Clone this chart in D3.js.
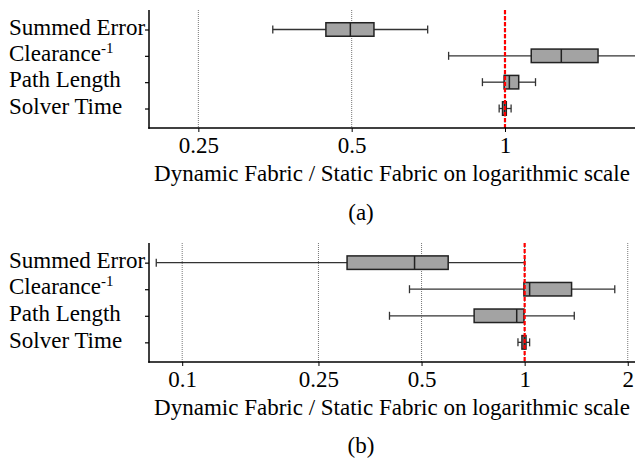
<!DOCTYPE html>
<html><head><meta charset="utf-8">
<script src="https://cdn.jsdelivr.net/npm/d3@7"></script>
<style>
html,body{margin:0;padding:0;background:#fff;}
svg{display:block;font-family:"Liberation Serif","Times New Roman",serif;}
</style></head>
<body>
<svg id="c" width="635" height="460"></svg>
<script>
const categories = ["Summed Error", "Clearance", "Path Length", "Solver Time"];

// Panel (a)
const aTicks = [0.25, 0.5, 1];
const aTickLabels = ["0.25", "0.5", "1"];
const aWhiskerLow  = [0.350, 0.775, 0.903, 0.974];
const aQ1          = [0.445, 1.126, 0.996, 0.989];
const aMedian      = [0.497, 1.290, 1.020, 0.998];
const aQ3          = [0.553, 1.523, 1.064, 1.006];
const aWhiskerHigh = [0.705, 1.950, 1.148, 1.028];

// Panel (b)
const bTicks = [0.1, 0.25, 0.5, 1, 2];
const bTickLabels = ["0.1", "0.25", "0.5", "1", "2"];
const bWhiskerLow  = [0.084, 0.461, 0.403, 0.956];
const bQ1          = [0.303, 0.995, 0.712, 0.982];
const bMedian      = [0.477, 1.034, 0.948, 0.997];
const bQ3          = [0.598, 1.371, 0.995, 1.009];
const bWhiskerHigh = [1.000, 1.833, 1.396, 1.034];

const axisTitle = "Dynamic Fabric / Static Fabric on logarithmic scale";

const svg = d3.select("#c");

function panel(cfg) {
  const {id, top, bottom, domain, ticks, tickLabels, lo, q1, med, q3, hi, caption, captionY} = cfg;
  const left = 149, right = 635;
  const g = svg.append("g");
  const x = d3.scaleLog().domain(domain).range([left, right]);
  const y = d3.scalePoint().domain(categories).range([top, bottom]).padding(0.74);

  g.append("clipPath").attr("id", "clip" + id)
    .append("rect").attr("x", left).attr("y", top).attr("width", right - left).attr("height", bottom - top);

  // gridlines
  g.selectAll(".grid").data(ticks).join("line")
    .attr("x1", d => x(d)).attr("x2", d => x(d))
    .attr("y1", top).attr("y2", bottom)
    .attr("stroke", "#777").attr("stroke-width", 1).attr("stroke-dasharray", "1,1");

  const data = categories.map((c, i) => ({c, lo: lo[i], q1: q1[i], med: med[i], q3: q3[i], hi: hi[i]}));
  const bh = 13.5, ch = 8;
  const boxes = g.append("g").attr("clip-path", `url(#clip${id})`);
  const bg = boxes.selectAll("g.box").data(data).join("g");
  bg.append("line")
    .attr("x1", d => x(d.lo)).attr("x2", d => x(d.q1))
    .attr("y1", d => y(d.c)).attr("y2", d => y(d.c))
    .attr("stroke", "#333").attr("stroke-width", 1.3);
  bg.append("line")
    .attr("x1", d => x(d.q3)).attr("x2", d => x(d.hi))
    .attr("y1", d => y(d.c)).attr("y2", d => y(d.c))
    .attr("stroke", "#333").attr("stroke-width", 1.3);
  bg.append("line")
    .attr("x1", d => x(d.lo)).attr("x2", d => x(d.lo))
    .attr("y1", d => y(d.c) - ch / 2).attr("y2", d => y(d.c) + ch / 2)
    .attr("stroke", "#333").attr("stroke-width", 1.3);
  bg.append("line")
    .attr("x1", d => x(d.hi)).attr("x2", d => x(d.hi))
    .attr("y1", d => y(d.c) - ch / 2).attr("y2", d => y(d.c) + ch / 2)
    .attr("stroke", "#333").attr("stroke-width", 1.3);
  bg.append("rect")
    .attr("x", d => x(d.q1)).attr("width", d => x(d.q3) - x(d.q1))
    .attr("y", d => y(d.c) - bh / 2).attr("height", bh)
    .attr("fill", "#a3a3a3").attr("stroke", "#222").attr("stroke-width", 1.5);
  bg.append("line")
    .attr("x1", d => x(d.med)).attr("x2", d => x(d.med))
    .attr("y1", d => y(d.c) - bh / 2).attr("y2", d => y(d.c) + bh / 2)
    .attr("stroke", "#222").attr("stroke-width", 1.5);

  // red reference line
  g.append("line")
    .attr("x1", x(1)).attr("x2", x(1)).attr("y1", top).attr("y2", bottom)
    .attr("stroke", "#ff0000").attr("stroke-width", 2.2).attr("stroke-dasharray", "4,2");

  // y axis
  const ya = g.append("g").attr("transform", `translate(${left},0)`)
    .call(d3.axisLeft(y).tickSize(4).tickFormat(""));
  ya.select(".domain").remove();
  ya.selectAll(".tick line").attr("stroke", "#000").attr("stroke-width", 1.2);
  g.append("line").attr("x1", left).attr("x2", left).attr("y1", top).attr("y2", bottom + 0.75)
    .attr("stroke", "#000").attr("stroke-width", 1.5);

  // x axis
  const xa = g.append("g").attr("transform", `translate(0,${bottom})`)
    .call(d3.axisBottom(x).tickValues(ticks).tickSize(4).tickFormat((d, i) => tickLabels[i]));
  xa.select(".domain").remove();
  xa.selectAll(".tick line").attr("stroke", "#000").attr("stroke-width", 1);
  xa.selectAll(".tick text").attr("font-size", 23).attr("fill", "#000")
    .attr("font-family", '"Liberation Serif","Times New Roman",serif')
    .attr("dy", null).attr("y", 24.5);
  g.append("line").attr("x1", left - 0.75).attr("x2", right).attr("y1", bottom).attr("y2", bottom)
    .attr("stroke", "#000").attr("stroke-width", 1.5);

  // category labels
  categories.forEach((c, i) => {
    const t = g.append("text").attr("x", 9).attr("y", y(c) + 5.2)
      .attr("font-size", 23).attr("fill", "#000");
    t.append("tspan").text(c);
    if (c === "Clearance") {
      t.append("tspan").attr("font-size", 15).attr("dy", -8.5).text("-1");
    }
  });

  // axis title
  g.append("text").attr("x", (left + right) / 2).attr("y", bottom + 53)
    .attr("text-anchor", "middle").attr("font-size", 23).attr("fill", "#000").text(axisTitle);

  // caption
  g.append("text").attr("x", 361).attr("y", captionY)
    .attr("text-anchor", "middle").attr("font-size", 23).attr("fill", "#000").text(caption);
}

panel({id: "a", top: 10, bottom: 128, domain: [0.2, 1.8], ticks: aTicks, tickLabels: aTickLabels,
  lo: aWhiskerLow, q1: aQ1, med: aMedian, q3: aQ3, hi: aWhiskerHigh, caption: "(a)", captionY: 220});
panel({id: "b", top: 243, bottom: 362, domain: [0.08, 2.1], ticks: bTicks, tickLabels: bTickLabels,
  lo: bWhiskerLow, q1: bQ1, med: bMedian, q3: bQ3, hi: bWhiskerHigh, caption: "(b)", captionY: 453});
</script>
</body></html>
